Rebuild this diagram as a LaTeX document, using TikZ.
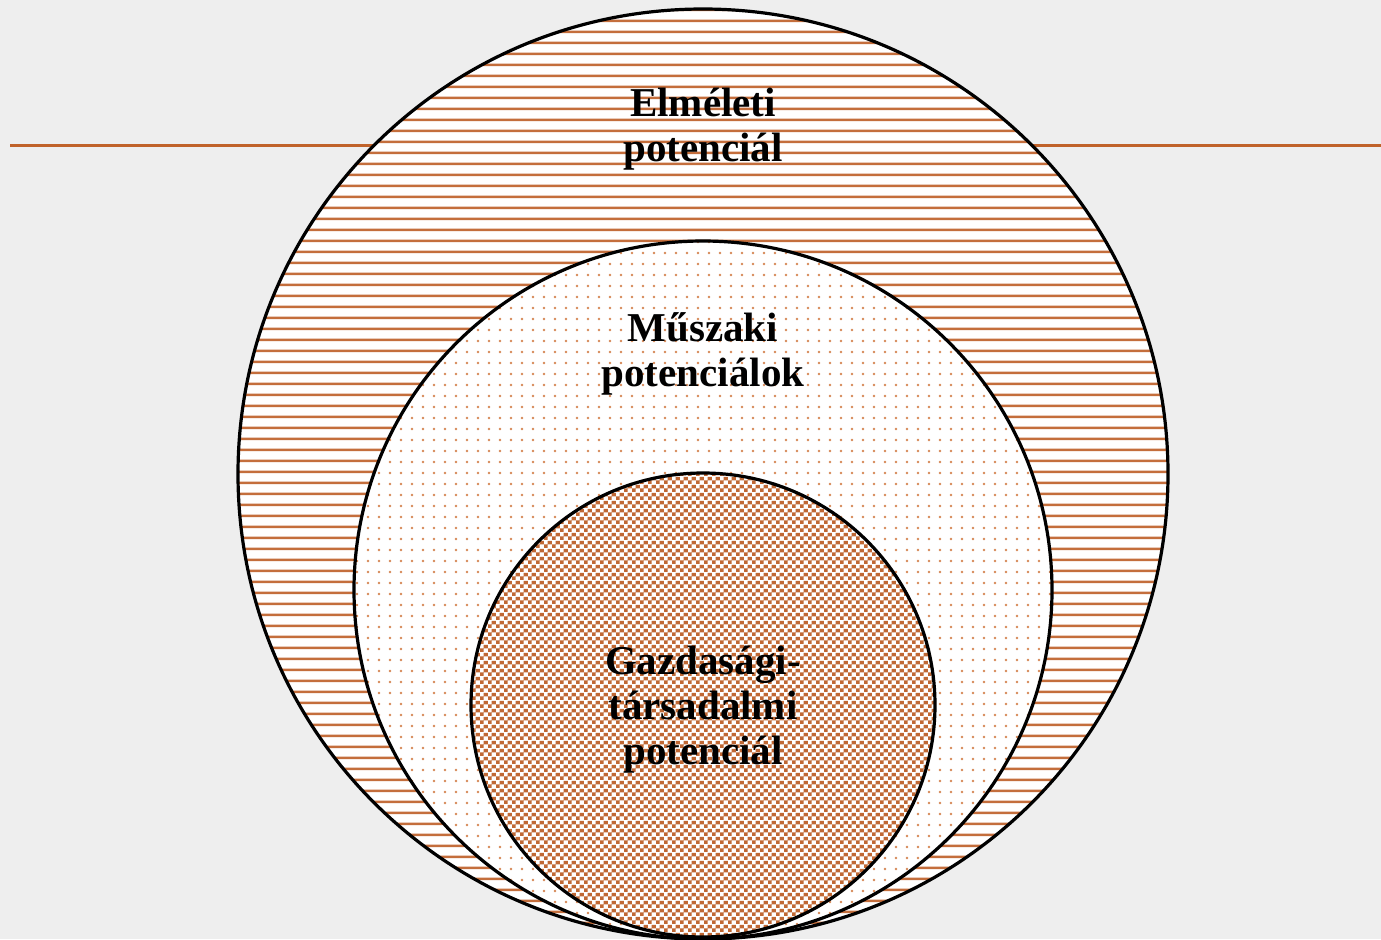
\documentclass[tikz,border=0pt]{standalone}
\usepackage{fontspec}
\setmainfont{Liberation Serif}
\usetikzlibrary{patterns}
\definecolor{bgc}{RGB}{238,238,238}
\definecolor{rust}{RGB}{192,98,42}
\definecolor{stripec}{RGB}{196,110,60}
\definecolor{dotc}{RGB}{214,135,85}
\definecolor{checkc}{RGB}{192,104,52}
\pgfdeclarepatterninherentlycolored{hstripes}{\pgfpointorigin}{\pgfqpoint{10pt}{5.35pt}}{\pgfqpoint{10pt}{5.35pt}}{%
  \pgfsetcolor{stripec}\pgfsetlinewidth{1.3pt}%
  \pgfpathmoveto{\pgfqpoint{-1pt}{2.6pt}}\pgfpathlineto{\pgfqpoint{11pt}{2.6pt}}\pgfusepath{stroke}}
\pgfdeclarepatterninherentlycolored{dotgrid}{\pgfpointorigin}{\pgfqpoint{5.5pt}{5.5pt}}{\pgfqpoint{5.5pt}{5.5pt}}{%
  \pgfsetcolor{dotc}%
  \pgfpathcircle{\pgfqpoint{2.75pt}{2.75pt}}{0.75pt}\pgfusepath{fill}}
\pgfdeclarepatterninherentlycolored{checker}{\pgfpointorigin}{\pgfqpoint{4pt}{4pt}}{\pgfqpoint{4pt}{4pt}}{%
  \pgfsetcolor{checkc}%
  \pgfpathrectangle{\pgfqpoint{0pt}{0pt}}{\pgfqpoint{2pt}{2pt}}%
  \pgfpathrectangle{\pgfqpoint{2pt}{2pt}}{\pgfqpoint{2pt}{2pt}}\pgfusepath{fill}}
\tikzset{
  ring/.style={circle, draw=black, line width=1.6pt, inner sep=0pt, outer sep=0pt, preaction={fill=white}},
  lbl/.style={align=center, font=\fontsize{20.5}{22.5}\selectfont\bfseries, text=black, inner sep=0pt}
}
\begin{document}
\begin{tikzpicture}[x=0.5pt,y=-0.5pt]
  \fill[bgc] (0,0) rectangle (1381,939);
  \useasboundingbox (0,0) rectangle (1381,939);
  \coordinate (lineL) at (10,145);
  \coordinate (lineR) at (1381,145);
  \draw[rust, line width=1.5pt] (lineL) -- (lineR);
  \node[ring, minimum size=465pt, pattern=hstripes] (outer) at (703,474) {};
  \node[ring, minimum size=349pt, pattern=dotgrid] (middle) at (703,590) {};
  \node[ring, minimum size=232pt, pattern=checker] (inner) at (703,705) {};
  \node[lbl] (t1) at (703,129) {Elméleti\\potenciál};
  \node[lbl] (t2) at (703,354) {Műszaki\\potenciálok};
  \node[lbl] (t3) at (703,710) {Gazdasági-\\társadalmi\\potenciál};
\end{tikzpicture}
\end{document}
